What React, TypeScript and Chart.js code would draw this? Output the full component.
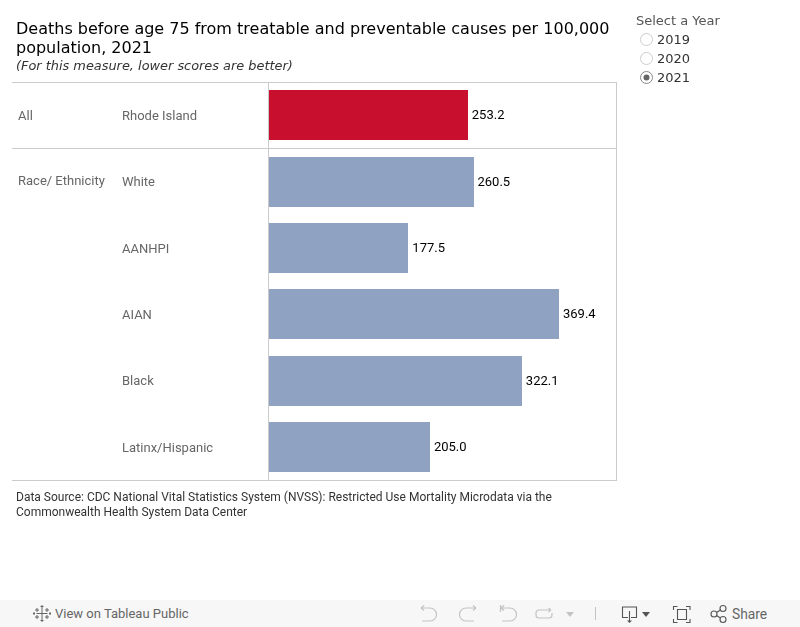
import React, { useEffect, useRef } from "react";
import { Chart, registerables } from "chart.js";

Chart.register(...registerables);

const categories = ["Rhode Island", "White", "AANHPI", "AIAN", "Black", "Latinx/Hispanic"];
const deaths = [253.2, 260.5, 177.5, 369.4, 322.1, 205.0];
const barColors = ["#c8102e", "#8fa2c2", "#8fa2c2", "#8fa2c2", "#8fa2c2", "#8fa2c2"];
const groupLabels = [
  { label: "All", index: 0 },
  { label: "Race/ Ethnicity", index: 1 },
];
const years = ["2019", "2020", "2021"];
const selectedYear = "2021";

const lineColor = "#cbcbcb";
const barHeight = 50;

const framePlugin = {
  id: "frame",
  beforeDatasetsDraw(chart: any) {
    // snap the library's computed bar geometry to whole pixels
    chart.getDatasetMeta(0).data.forEach((bar: any) => {
      bar.y = Math.floor(bar.y - barHeight / 2 + 0.5) + barHeight / 2;
      bar.x = Math.round(bar.x);
    });
  },
  afterDraw(chart: any) {
    const { ctx, chartArea: a, scales } = chart;
    const y = scales.y;
    const x = scales.x;
    const rowH = (a.bottom - a.top) / categories.length;
    ctx.save();
    ctx.strokeStyle = lineColor;
    ctx.lineWidth = 1;
    const hline = (py: number) => {
      ctx.beginPath();
      ctx.moveTo(12, Math.floor(py) + 0.5);
      ctx.lineTo(a.right + 1, Math.floor(py) + 0.5);
      ctx.stroke();
    };
    hline(a.top);
    hline(a.top + rowH);
    hline(a.bottom);
    ctx.beginPath();
    ctx.moveTo(a.left - 0.5, a.top);
    ctx.lineTo(a.left - 0.5, a.bottom);
    ctx.moveTo(a.right + 0.5, a.top);
    ctx.lineTo(a.right + 0.5, a.bottom);
    ctx.stroke();

    ctx.font = "13px Roboto";
    ctx.fillStyle = "#666666";
    ctx.textAlign = "left";
    ctx.textBaseline = "middle";
    groupLabels.forEach((g) => {
      const py = y.getPixelForValue(g.index) + (g.index === 1 ? 0 : 1.5);
      ctx.fillText(g.label, 18, py);
    });
    categories.forEach((_, i) => {
      ctx.fillText(y.getLabelForValue(i), 122, Math.round(y.getPixelForValue(i) - 0.01) + 2);
    });

    ctx.font = "13px Roboto";
    ctx.fillStyle = "#000000";
    deaths.forEach((v, i) => {
      ctx.fillText(v.toFixed(1), x.getPixelForValue(v) + 4, Math.round(y.getPixelForValue(i)) + 1);
    });
    ctx.restore();
  },
};

const iconProps = {
  fill: "none",
  stroke: "#c4c4c4",
  strokeWidth: 1.2,
};

function Toolbar() {
  return (
    <div
      style={{
        position: "absolute",
        left: 0,
        top: 600,
        width: 800,
        height: 27,
        background: "#f7f7f7",
        fontFamily: "Roboto",
        fontSize: 13,
        color: "#666",
      }}
    >
      <svg width="800" height="27" style={{ position: "absolute", left: 0, top: 0 }}>
        <g stroke="#666" strokeWidth="1" fill="none">
          <path d="M42 8v11M36.5 13.5h11M37 8v4M35 10h4M47 8v4M45 10h4M37 15v4M35 17h4M47 15v4M45 17h4M42 5v3M40.5 6.5h3M42 19v3M40.5 20.5h3M34 12v3M33 13.5h2M50 12v3M49 13.5h2" />
        </g>
        <g {...iconProps}>
          <path d="M421 8h9a6 6 0 0 1 0 13h-8M421 8l3-2.5M421 8l3 2.5" />
          <path d="M476 8h-10a6 6 0 0 0 0 13h8M476 8l-3-2.5M476 8l-3 2.5" />
          <path d="M500.5 5v7M501 8h9a6 6 0 0 1 0 13h-8M501 8l3-2.5M501 8l3 2.5" />
          <path d="M551 10h-12a3 3 0 0 0-3 3v2a3 3 0 0 0 3 3h10a3 3 0 0 0 3-3v-2M551 10l-2.5-2M551 10l-2.5 2" />
        </g>
        <path d="M566 12h8l-4 5z" fill="#c4c4c4" />
        <path d="M595.5 7v13" stroke="#c4c4c4" />
        <g fill="none" stroke="#555" strokeWidth="1.1">
          <path d="M628 17.5h-5.5v-10.500h14v10.500h-5.500M629.500 11v10" />
          <path d="M677.500 9.500h9v10h-9zM673.500 10V6.500h4M690 10V6.500h-4M673.500 19v3.500h4M690 19v3.500h-4" />
          <circle cx="714" cy="14" r="3" />
          <circle cx="723" cy="8.500" r="3" />
          <circle cx="723" cy="19.500" r="3" />
          <path d="M716.500 12.500l4-2.500M716.500 15.500l4 2.500" />
        </g>
        <path d="M627 20.500h5l-2.500 2.500z" fill="#555" />
        <path d="M642 12h8l-4 5z" fill="#555" />
      </svg>
      <span style={{ position: "absolute", left: 55, top: 6 }}>View on Tableau Public</span>
      <span style={{ position: "absolute", left: 732, top: 6, fontSize: 13.8 }}>Share</span>
    </div>
  );
}

export default function App() {
  const ref = useRef<HTMLCanvasElement>(null);

  useEffect(() => {
    const chart = new Chart(ref.current!, {
      type: "bar",
      data: {
        labels: categories,
        datasets: [
          {
            data: deaths,
            backgroundColor: barColors,
            barThickness: barHeight,
            inflateAmount: 0,
          },
        ],
      },
      plugins: [framePlugin],
      options: {
        indexAxis: "y",
        animation: false,
        responsive: false,
        devicePixelRatio: 1,
        layout: { padding: { left: 122, top: 82, right: 184, bottom: 147 } },
        plugins: { legend: { display: false }, tooltip: { enabled: false } },
        scales: {
          x: { display: false, min: 0, max: 442 },
          y: {
            afterFit(scale: any) {
              scale.width = 147;
            },
            border: { display: false },
            grid: { display: false, drawTicks: false },
            ticks: { display: false, autoSkip: false },
          },
        },
      },
    } as any);
    return () => chart.destroy();
  }, []);

  return (
    <div style={{ position: "absolute", left: 0, top: 0, width: 800, height: 627, background: "#fff", overflow: "hidden" }}>
      <canvas ref={ref} width={800} height={627} style={{ position: "absolute", left: 0, top: 0 }} />
      <div
        style={{
          position: "absolute",
          left: 16,
          top: 19,
          width: 600,
          fontFamily: "'DejaVu Sans'",
          fontSize: 16,
          lineHeight: "19px",
          color: "#000",
        }}
      >
        Deaths before age 75 from treatable and preventable causes per 100,000 population, 2021
      </div>
      <div
        style={{
          position: "absolute",
          left: 16,
          top: 58,
          fontFamily: "'DejaVu Sans'",
          fontStyle: "italic",
          fontSize: 12.9,
          lineHeight: "16px",
          color: "#333",
          whiteSpace: "nowrap",
        }}
      >
        (For this measure, lower scores are better)
      </div>
      <div
        style={{
          position: "absolute",
          left: 16,
          top: 490,
          width: 590,
          fontFamily: "Roboto",
          fontSize: 12,
          lineHeight: "15px",
          color: "#333",
        }}
      >
        Data Source: CDC National Vital Statistics System (NVSS): Restricted Use Mortality Microdata via the Commonwealth Health System Data Center
      </div>
      <div
        style={{
          position: "absolute",
          left: 636,
          top: 13,
          fontFamily: "'DejaVu Sans'",
          fontSize: 13,
          lineHeight: "16px",
          color: "#555",
          whiteSpace: "nowrap",
        }}
      >
        Select a Year
      </div>
      {years.map((yr, i) => (
        <div key={yr} style={{ position: "absolute", left: 640, top: 31 + i * 19, height: 19, width: 100 }}>
          <svg width="14" height="14" style={{ position: "absolute", left: 0, top: 2 }}>
            <circle cx="6.5" cy="6.5" r="6" fill="#fff" stroke={yr === selectedYear ? "#888" : "#ccc"} />
            {yr === selectedYear && <circle cx="6.5" cy="6.5" r="3" fill="#666" />}
          </svg>
          <span
            style={{
              position: "absolute",
              left: 17,
              top: 1,
              fontFamily: "'DejaVu Sans'",
              fontSize: 13,
              lineHeight: "16px",
              color: "#333",
            }}
          >
            {yr}
          </span>
        </div>
      ))}
      <Toolbar />
    </div>
  );
}
